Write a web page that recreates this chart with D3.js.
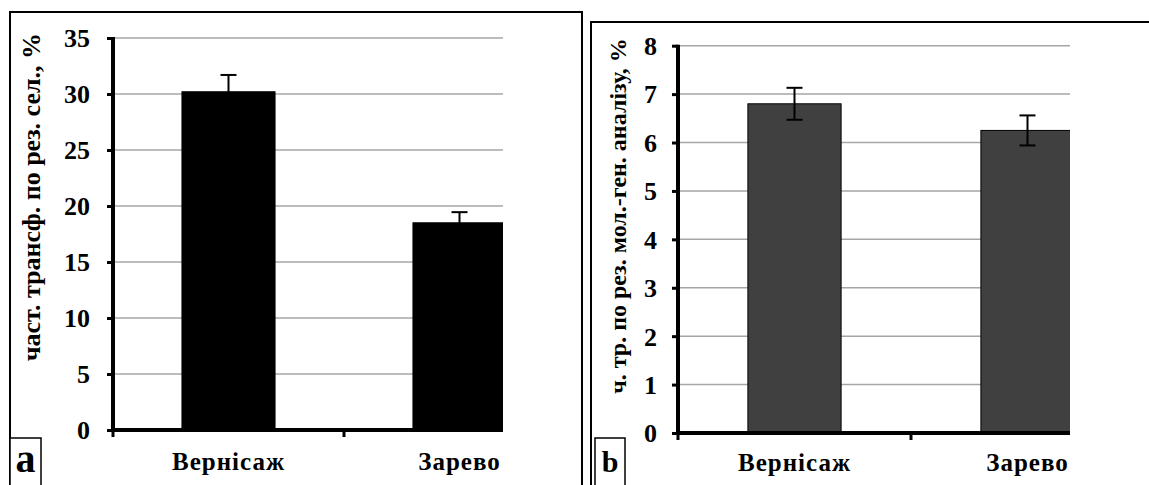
<!DOCTYPE html>
<html>
<head>
<meta charset="utf-8">
<script src="https://cdn.jsdelivr.net/npm/d3@7"></script>
<style>
  html, body { margin: 0; padding: 0; background: #fff; }
  svg { display: block; }
  text { font-family: "Liberation Serif", "Times New Roman", serif; font-weight: bold; }
</style>
</head>
<body>
<svg id="chart" width="1149" height="485"></svg>
<script>
// ---- data ----
const categories = ["Вернісаж", "Зарево"];
const valuesA = [30.2, 18.5];
const errorsA = [1.5, 0.95];
const valuesB = [6.8, 6.25];
const errorsB = [0.33, 0.31];
const ticksA = [0, 5, 10, 15, 20, 25, 30, 35];
const ticksB = [0, 1, 2, 3, 4, 5, 6, 7, 8];
const titleA = "част. трансф. по рез. сел., %";
const titleB = "ч. тр. по рез. мол.-ген. аналізу, %";
const panelLabels = ["a", "b"];

const svg = d3.select("#chart");

// panel frames
function frame(x0, y0, x1) {
  svg.append("path")
    .attr("d", `M${x0},490 L${x0},${y0} L${x1},${y0}` + (x1 < 1149 ? ` L${x1},490` : ""))
    .attr("fill", "none").attr("stroke", "#000").attr("stroke-width", 2);
}
frame(10, 12, 582);
frame(591, 22, 1152);

function panel(cfg) {
  const g = svg.append("g");
  const y = d3.scaleLinear().domain(cfg.domain).range([cfg.y0, cfg.y1]);
  const x = d3.scaleBand().domain(categories)
    .range([cfg.xAxis, cfg.xAxis + 2 * cfg.step])
    .paddingInner(cfg.pad).paddingOuter(cfg.pad / 2);

  const clipId = "clip" + cfg.id;
  svg.append("clipPath").attr("id", clipId)
    .append("rect").attr("x", cfg.xAxis).attr("y", 0)
    .attr("width", cfg.xRight - cfg.xAxis).attr("height", 485);

  const plot = g.append("g").attr("clip-path", `url(#${clipId})`);

  // gridlines
  plot.selectAll("line.grid").data(cfg.ticks.filter(d => d > 0)).join("line")
    .attr("x1", cfg.xAxis).attr("x2", cfg.xRight)
    .attr("y1", d => y(d)).attr("y2", d => y(d))
    .attr("stroke", "#a6a6a6").attr("stroke-width", 1.5);

  // bars
  plot.selectAll("rect.bar").data(cfg.values).join("rect")
    .attr("x", (d, i) => x(categories[i]))
    .attr("width", x.bandwidth())
    .attr("y", d => y(d))
    .attr("height", d => y(0) - y(d))
    .attr("fill", cfg.fill)
    .attr("stroke", "#000").attr("stroke-width", 1);

  // error bars
  const eb = plot.selectAll("g.err").data(cfg.values).join("g");
  eb.append("line")
    .attr("x1", (d, i) => x(categories[i]) + x.bandwidth() / 2)
    .attr("x2", (d, i) => x(categories[i]) + x.bandwidth() / 2)
    .attr("y1", (d, i) => y(d - cfg.errors[i]))
    .attr("y2", (d, i) => y(d + cfg.errors[i]))
    .attr("stroke", "#000").attr("stroke-width", 2);
  [1, -1].forEach(s => {
    eb.append("line")
      .attr("x1", (d, i) => x(categories[i]) + x.bandwidth() / 2 - 8)
      .attr("x2", (d, i) => x(categories[i]) + x.bandwidth() / 2 + 8)
      .attr("y1", (d, i) => y(d + s * cfg.errors[i]))
      .attr("y2", (d, i) => y(d + s * cfg.errors[i]))
      .attr("stroke", "#000").attr("stroke-width", 2);
  });

  // y axis
  const yAxis = d3.axisLeft(y).tickValues(cfg.ticks).tickSize(6).tickPadding(cfg.tickPad).tickSizeOuter(0);
  const ya = g.append("g").attr("transform", `translate(${cfg.xAxis},0)`).call(yAxis);
  ya.select(".domain").attr("stroke-width", 4).attr("d", `M0,${y(cfg.domain[1]) - 1}V${y(0) + 2}`);
  ya.selectAll(".tick line").attr("stroke-width", 3);
  ya.selectAll(".tick text")
    .attr("font-family", "Liberation Serif").attr("font-weight", "bold")
    .attr("font-size", cfg.tickSize).attr("fill", "#000").attr("dy", "0.34em");

  // x axis
  const xa = g.append("g").attr("transform", `translate(0,${y(0)})`);
  xa.append("line").attr("x1", cfg.xAxis - 2).attr("x2", cfg.xRight)
    .attr("stroke", "#000").attr("stroke-width", 4);
  [cfg.xAxis, cfg.xAxis + cfg.step].forEach(tx => {
    xa.append("line").attr("x1", tx).attr("x2", tx).attr("y1", 0).attr("y2", 7)
      .attr("stroke", "#000").attr("stroke-width", 3);
  });
  xa.selectAll("text.cat").data(categories).join("text")
    .attr("x", d => x(d) + x.bandwidth() / 2)
    .attr("y", cfg.catY - y(0))
    .attr("text-anchor", "middle")
    .attr("font-size", cfg.catSize)
    .attr("letter-spacing", 1)
    .text(d => d);

  // y title
  g.append("text")
    .attr("transform", `translate(${cfg.titleX},${cfg.titleY}) rotate(-90)`)
    .attr("text-anchor", "middle")
    .attr("font-size", cfg.titleSize)
    .text(cfg.title);

  // panel label
  g.append("rect").attr("x", cfg.boxX).attr("y", 438).attr("width", cfg.boxW).attr("height", 60)
    .attr("fill", "#fff").attr("stroke", "#000").attr("stroke-width", 1.5);
  g.append("text").attr("x", cfg.boxX + cfg.boxW / 2).attr("y", 472).attr("text-anchor", "middle")
    .attr("font-family", "Liberation Sans")
    .attr("font-size", cfg.labelSize).text(cfg.label);
}

panel({
  id: "A", domain: [0, 35], y0: 430, y1: 38, xAxis: 113, step: 231, pad: 0.597, xRight: 503,
  ticks: ticksA, values: valuesA, errors: errorsA, fill: "#000",
  tickSize: 26, tickPad: 17, catSize: 25, catY: 470, title: titleA, titleX: 40, titleY: 197, titleSize: 26,
  boxX: 10, boxW: 31, label: panelLabels[0], labelSize: 40
});
panel({
  id: "B", domain: [0, 8], y0: 433, y1: 45.7, xAxis: 678, step: 233, pad: 0.6, xRight: 1070,
  ticks: ticksB, values: valuesB, errors: errorsB, fill: "#404040",
  tickSize: 26, tickPad: 15, catSize: 25, catY: 471, title: titleB, titleX: 626, titleY: 216, titleSize: 24,
  boxX: 595, boxW: 30, label: panelLabels[1], labelSize: 30
});
</script>
</body>
</html>
